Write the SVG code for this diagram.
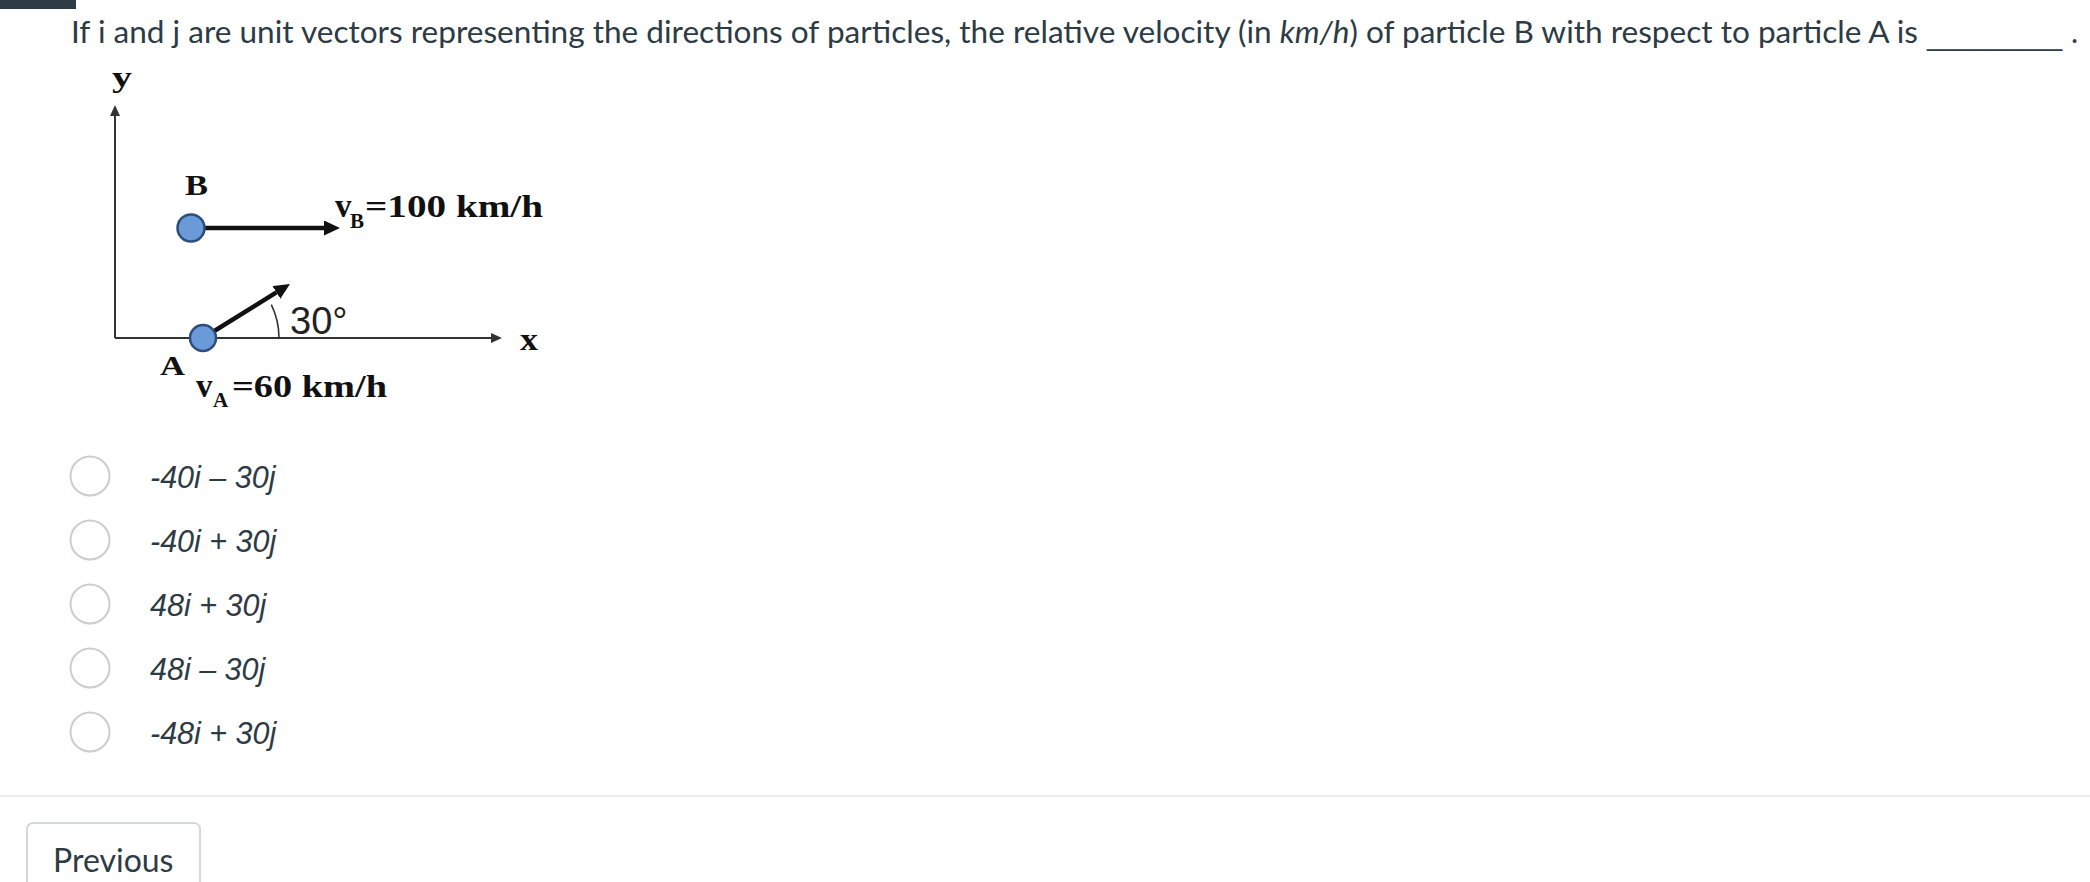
<svg xmlns="http://www.w3.org/2000/svg" width="2090" height="882" viewBox="0 0 2090 882">
<defs>
<style>
.ui{font-family:Lato,"Noto Sans",sans-serif;fill:#2d3b45;font-size:30px}
.lbl{font-family:"Liberation Serif","Times New Roman",serif;font-weight:bold;fill:#111}
.opt{font-family:"Liberation Sans",Arial,sans-serif;font-style:italic;fill:#2d3b45;font-size:30.5px}
.radio{fill:#fff;stroke:#c7cdd1;stroke-width:2}
.axis{stroke:#333;stroke-width:2;fill:none}
.vel{stroke:#111;stroke-width:4.5;fill:none}
.dot{fill:#6a9bd8;stroke:#2e4d7c;stroke-width:2.5}
</style>
<marker id="axh" markerUnits="userSpaceOnUse" markerWidth="12" markerHeight="10" refX="0" refY="5" orient="auto">
<path d="M0,0 L11,5 L0,10 z" fill="#333"/>
</marker>
<marker id="velh" markerUnits="userSpaceOnUse" markerWidth="17" markerHeight="15" refX="0" refY="7.5" orient="auto">
<path d="M0,0 L16,7.5 L0,15 z" fill="#111"/>
</marker>
</defs>
<rect width="2090" height="882" fill="#fff"/>
<rect x="0" y="0" width="76" height="9" fill="#2d3b45"/>
<g id="question">
<text class="ui" x="71" y="43" style="font-size:31.5px" textLength="1847" lengthAdjust="spacingAndGlyphs">If i and j are unit vectors representing the directions of particles, the relative velocity (in <tspan font-style="italic">km/h</tspan>) of particle B with respect to particle A is</text>
<text x="1927" y="45" font-family="'Liberation Sans',Arial,sans-serif" font-size="27" fill="#2d3b45">_________</text>
<text class="ui" x="2071" y="43">.</text>
</g>
<g id="connectors">
<line class="axis" x1="115" y1="338" x2="115" y2="116" marker-end="url(#axh)"/>
<line class="axis" x1="115" y1="338" x2="491" y2="338" marker-end="url(#axh)"/>
<line class="vel" x1="190" y1="228" x2="324" y2="228" marker-end="url(#velh)"/>
<line class="vel" x1="203" y1="338" x2="276.4" y2="292.4" marker-end="url(#velh)"/>
<path d="M279,338 A76,76 0 0 0 271.3,304.7" stroke="#333" stroke-width="1.6" fill="none"/>
</g>
<g id="axis-labels">
<text class="lbl" x="112" y="87" font-size="30" textLength="20" lengthAdjust="spacingAndGlyphs">y</text>
<text class="lbl" x="520" y="350" font-size="32" textLength="18" lengthAdjust="spacingAndGlyphs">x</text>
</g>
<g id="particle-B">
<circle class="dot" cx="191" cy="228" r="13.5"/>
<text class="lbl" x="185" y="195" font-size="30" textLength="23" lengthAdjust="spacingAndGlyphs">B</text>
<text class="lbl" x="335" y="217" font-size="33">v</text>
<text class="lbl" x="350" y="228" font-size="21">B</text>
<text class="lbl" x="365" y="217" font-size="32" textLength="178" lengthAdjust="spacingAndGlyphs">=100 km/h</text>
</g>
<g id="particle-A">
<circle class="dot" cx="203" cy="338" r="13"/>
<text class="lbl" x="160" y="375" font-size="28" textLength="25" lengthAdjust="spacingAndGlyphs">A</text>
<text class="lbl" x="196" y="397" font-size="33">v</text>
<text class="lbl" x="213" y="407" font-size="21">A</text>
<text class="lbl" x="232" y="397" font-size="32" textLength="155" lengthAdjust="spacingAndGlyphs">=60 km/h</text>
<text x="290" y="334" font-family="'Liberation Sans',Arial,sans-serif" font-size="38" fill="#222">30°</text>
</g>
<g id="options">
<circle class="radio" cx="90" cy="476" r="19.5"/>
<text class="opt" x="150" y="488">-40i – 30j</text>
<circle class="radio" cx="90" cy="540" r="19.5"/>
<text class="opt" x="150" y="552">-40i + 30j</text>
<circle class="radio" cx="90" cy="604" r="19.5"/>
<text class="opt" x="150" y="616">48i + 30j</text>
<circle class="radio" cx="90" cy="668" r="19.5"/>
<text class="opt" x="150" y="680">48i – 30j</text>
<circle class="radio" cx="90" cy="732" r="19.5"/>
<text class="opt" x="150" y="744">-48i + 30j</text>
</g>
<line x1="0" y1="796" x2="2090" y2="796" stroke="#ebedee" stroke-width="2"/>
<g id="previous-button">
<rect x="27" y="823" width="173" height="80" rx="6" fill="#fff" stroke="#d5d8db" stroke-width="2"/>
<text class="ui" x="53" y="872" style="font-size:32px">Previous</text>
</g>
</svg>
